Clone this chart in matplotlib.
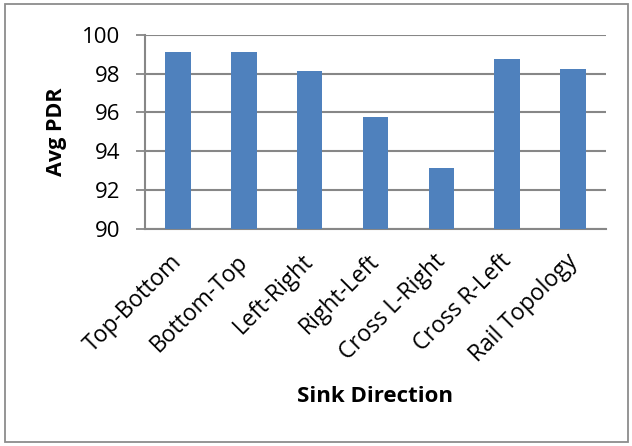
import matplotlib
matplotlib.use("Agg")
import matplotlib.pyplot as plt
import matplotlib.transforms as mtransforms
from matplotlib.patches import Rectangle

# Average packet delivery ratio per sink movement direction
directions = ["Top-Bottom", "Bottom-Top", "Left-Right", "Right-Left",
              "Cross L-Right", "Cross R-Left", "Rail Topology"]
avg_pdr = [99.11, 99.12, 98.14, 95.75, 93.15, 98.78, 98.23]
y_ticks = [90, 92, 94, 96, 98, 100]

plt.rcParams["font.family"] = ["Open Sans", "DejaVu Sans"]

bar_color = "#4F81BD"
grid_color = "#878787"

fig = plt.figure(figsize=(6.32, 4.46), dpi=100)
fig.patch.set_facecolor("white")

# outer chart frame
fig.patches.append(Rectangle((5 / 632, 4 / 446), 623 / 632, 438 / 446,
                             transform=fig.transFigure, fill=False,
                             edgecolor="#8c8c8c", linewidth=1.3))

ax = fig.add_axes([145 / 632, 1 - 228.7 / 446, 461 / 632, (228.7 - 35) / 446])
x = list(range(len(directions)))
ax.bar(x, avg_pdr, width=0.39, color=bar_color, zorder=3)

ax.set_ylim(90, 100)
ax.set_xlim(-0.5, len(directions) - 0.5)
ax.set_yticks(y_ticks)
ax.set_yticklabels([str(v) for v in y_ticks], fontsize=16)
ax.yaxis.grid(True, color=grid_color, linewidth=1.5, zorder=0)
ax.set_axisbelow(True)

ax.set_xticks(x)
ax.set_xticklabels(directions, rotation=45, ha="right",
                   rotation_mode="anchor", fontsize=16.5)
ax.tick_params(axis="x", length=0, pad=15)
ax.tick_params(axis="y", length=6.7, width=1.3, color=grid_color, pad=11)

# nudge the slanted category labels slightly to the left
shift = mtransforms.ScaledTranslation(-8 / 100, 0, fig.dpi_scale_trans)
for lbl in ax.get_xticklabels():
    lbl.set_transform(lbl.get_transform() + shift)

for side in ("top", "right"):
    ax.spines[side].set_visible(False)
for side in ("left", "bottom"):
    ax.spines[side].set_color(grid_color)
    ax.spines[side].set_linewidth(1.5)

ax.set_ylabel("Avg PDR", fontsize=15.5, fontweight="bold")
ax.yaxis.set_label_coords(-0.17, 0.5)
fig.text(375 / 632, 1 - 397 / 446, "Sink Direction", fontsize=16,
         fontweight="bold", ha="center", va="center")

fig.savefig("out.png", dpi=100)
